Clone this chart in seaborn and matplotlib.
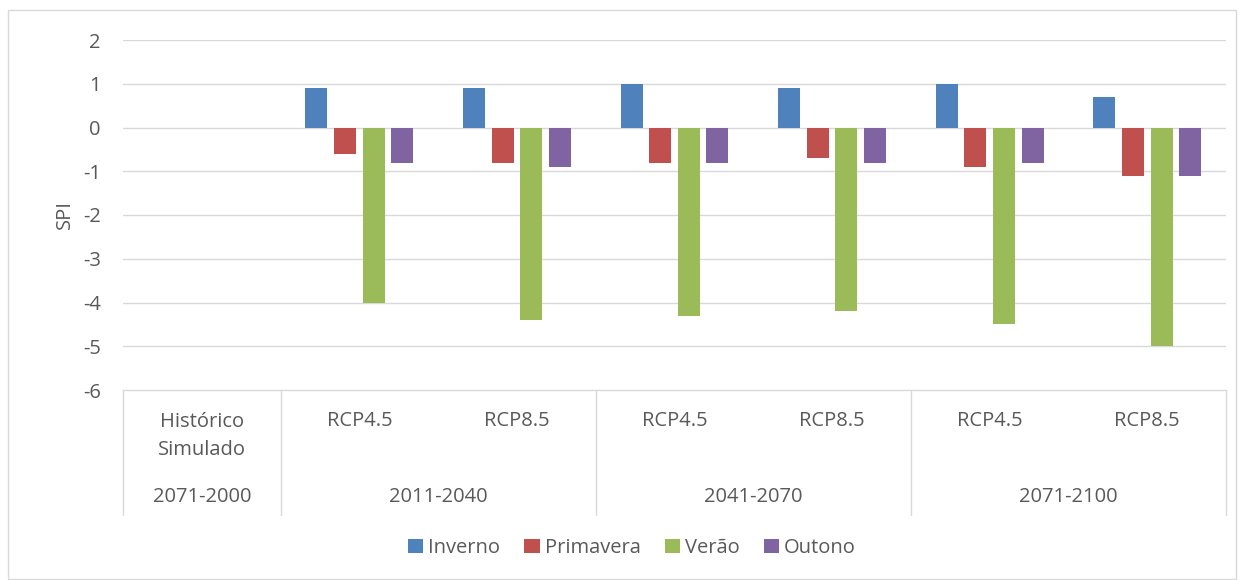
import numpy as np
import pandas as pd
import matplotlib
matplotlib.use("Agg")
import matplotlib.pyplot as plt
import matplotlib.transforms as mtransforms
from matplotlib.patches import Rectangle, Patch
import seaborn as sns

# Scenario categories (x axis) and their period groups
scenarios = ["Histórico\nSimulado", "RCP4.5", "RCP8.5", "RCP4.5", "RCP8.5", "RCP4.5", "RCP8.5"]
periods = ["2071-2000", "2011-2040", "2041-2070", "2071-2100"]
period_spans = [(0, 0), (1, 2), (3, 4), (5, 6)]

seasons = ["Inverno", "Primavera", "Verão", "Outono"]
inverno = [0.0, 0.9, 0.9, 1.0, 0.9, 1.0, 0.7]
primavera = [0.0, -0.6, -0.8, -0.8, -0.7, -0.9, -1.1]
verao = [0.0, -4.0, -4.4, -4.3, -4.2, -4.5, -5.0]
outono = [0.0, -0.8, -0.9, -0.8, -0.8, -0.8, -1.1]

colors = ["#4F81BD", "#C0504D", "#9BBB59", "#8064A2"]
text_color = "#595959"
grid_color = "#D9D9D9"
fs = 14.5

sns.set_theme(style="white")
plt.rcParams["font.family"] = ["Open Sans", "DejaVu Sans"]

cat_ids = [f"c{i}" for i in range(len(scenarios))]
rows = []
for name, vals in zip(seasons, [inverno, primavera, verao, outono]):
    for cid, v in zip(cat_ids, vals):
        rows.append({"cat": cid, "season": name, "SPI": v})
df = pd.DataFrame(rows)

fig = plt.figure(figsize=(12.44, 5.8), dpi=100)
ax = fig.add_axes([123 / 1244, 1 - 390 / 580, (1226 - 123) / 1244, 350 / 580])

sns.barplot(data=df, x="cat", y="SPI", hue="season", order=cat_ids,
            hue_order=seasons, palette=colors, width=0.726, gap=0.23,
            saturation=1, ax=ax, legend=False, errorbar=None, linewidth=0)

ax.set_xlim(-0.5, len(scenarios) - 0.5)
ax.set_ylim(-6, 2)
ax.set_yticks(np.arange(-6, 3, 1))
ax.set_yticklabels([str(v) for v in range(-6, 3)])
ax.tick_params(axis="y", length=0, pad=16, labelsize=fs, labelcolor=text_color)
ax.set_xticks([])
ax.set_xlabel("")
ax.set_ylabel("SPI", fontsize=fs, color=text_color, labelpad=6)

for sp in ["top", "right", "left"]:
    ax.spines[sp].set_visible(False)
ax.spines["bottom"].set_color(grid_color)
ax.spines["bottom"].set_linewidth(1.0)
for yv in range(-5, 3):
    ax.axhline(yv, color=grid_color, lw=1.0, zorder=0)
ax.set_axisbelow(True)

# Two-level category axis drawn below the plot
trans = mtransforms.blended_transform_factory(ax.transData, ax.transAxes)
for x in [-0.5, 0.5, 2.5, 4.5, 6.5]:
    ax.plot([x, x], [0, -0.357], transform=trans, color=grid_color, lw=1.0,
            clip_on=False)
for i, lab in enumerate(scenarios):
    y = -0.131 if "\n" in lab else -0.0886
    ax.text(i, y, lab, transform=trans, ha="center", va="center",
            fontsize=fs, color=text_color, linespacing=1.55)
for lab, (a, b) in zip(periods, period_spans):
    ax.text((a + b) / 2, -0.306, lab, transform=trans, ha="center",
            va="center", fontsize=fs, color=text_color)

handles = [Patch(facecolor=c, edgecolor="none") for c in colors]
fig.legend(handles, seasons, loc="center", bbox_to_anchor=(0.508, 1 - 548 / 580),
           ncol=4, frameon=False, fontsize=fs, labelcolor=text_color,
           handlelength=0.75, handleheight=0.75, handletextpad=0.25,
           columnspacing=1.2)

# Chart border
fig.patches.append(Rectangle((8 / 1244, 0.002), (1236 - 8) / 1244, 1 - 10 / 580 - 0.002,
                             transform=fig.transFigure, fill=False,
                             edgecolor=grid_color, lw=1.0))

fig.savefig("out.png", dpi=100, facecolor="white")
